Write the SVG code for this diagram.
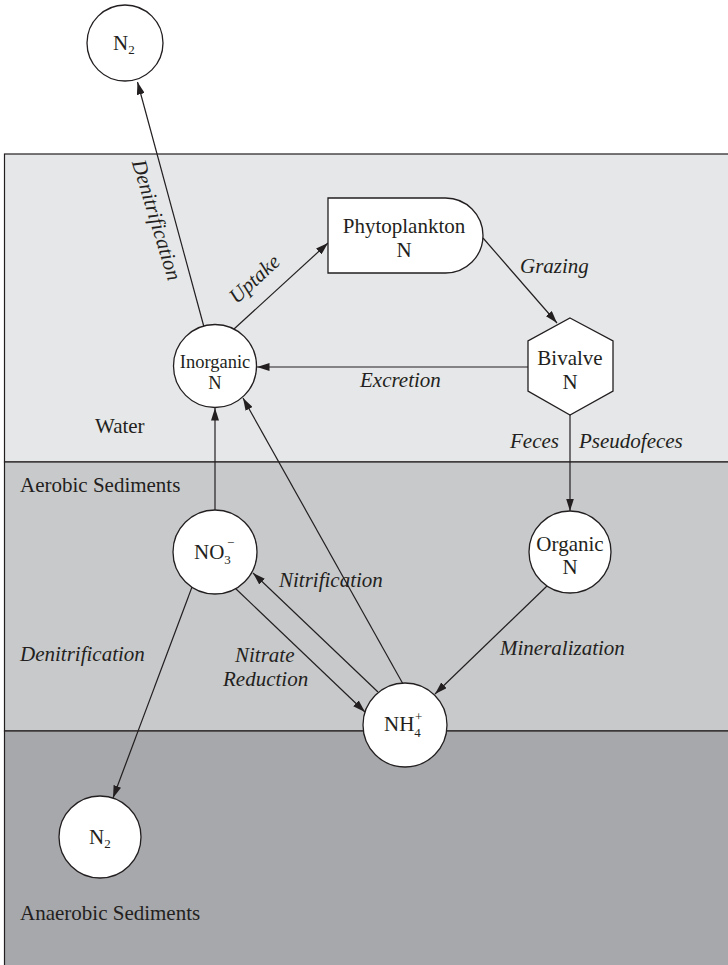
<svg xmlns="http://www.w3.org/2000/svg" width="728" height="965" viewBox="0 0 728 965">
<defs>
<marker id="ah" markerUnits="userSpaceOnUse" markerWidth="13" markerHeight="8" refX="12.5" refY="4" orient="auto">
<path d="M0,0 L12.5,4 L0,8 Z" fill="#231f20"/>
</marker>
</defs>
<style>
text{font-family:"Liberation Serif","Times New Roman",serif;fill:#231f20;font-size:21px}
.c{text-anchor:middle}
.i{font-style:italic}
.sm{font-size:13px}
.node{fill:#fff;stroke:#231f20;stroke-width:1.3}
.conn line{stroke:#231f20;stroke-width:1.2;fill:none}
.conn line.a{marker-end:url(#ah)}
.band{stroke:#231f20;stroke-width:1.2}
</style>
<g id="zones">
<rect class="band" x="4.5" y="154" width="730" height="308" fill="#e6e7e8"/>
<rect class="band" x="4.5" y="462" width="730" height="269" fill="#c8c9cb"/>
<rect class="band" x="4.5" y="731" width="730" height="240" fill="#a7a8ab"/>
<text x="95" y="433">Water</text>
<text x="20" y="492">Aerobic Sediments</text>
<text x="20" y="920">Anaerobic Sediments</text>
</g>
<g class="conn" id="connectors">
<line class="a" x1="204" y1="327" x2="137.5" y2="82"/>
<line class="a" x1="234" y1="329" x2="328" y2="243"/>
<line class="a" x1="483" y1="238" x2="557" y2="323"/>
<line class="a" x1="528" y1="367" x2="257" y2="367"/>
<line class="a" x1="570" y1="415" x2="570" y2="511"/>
<line class="a" x1="215" y1="510" x2="215" y2="408"/>
<line class="a" x1="403" y1="684" x2="243" y2="398"/>
<line class="a" x1="378" y1="692" x2="253" y2="573"/>
<line class="a" x1="235" y1="588" x2="365" y2="712"/>
<line class="a" x1="547" y1="586" x2="435" y2="694"/>
<line class="a" x1="192" y1="587" x2="113" y2="798"/>
</g>
<g id="labels">
<text class="i c" transform="translate(150,222) rotate(73)">Denitrification</text>
<text class="i c" transform="translate(259,284) rotate(-42.5)">Uptake</text>
<text class="i" x="520" y="273">Grazing</text>
<text class="i" x="360" y="387">Excretion</text>
<text class="i" x="559" y="448" style="text-anchor:end">Feces</text>
<text class="i" x="579" y="448">Pseudofeces</text>
<text class="i" x="279" y="587">Nitrification</text>
<text class="i" x="235" y="662">Nitrate</text>
<text class="i" x="223" y="686">Reduction</text>
<text class="i" x="20" y="661">Denitrification</text>
<text class="i" x="500" y="655">Mineralization</text>
</g>
<g id="n2-top">
<circle class="node" cx="125" cy="43" r="38"/>
<text x="113" y="50">N<tspan class="sm" dy="4">2</tspan></text>
</g>
<g id="phytoplankton">
<path class="node" d="M328,198 H445.5 A37.5,37.5 0 0 1 445.5,273 H328 Z"/>
<text class="c" x="404" y="233">Phytoplankton</text>
<text class="c" x="404" y="257">N</text>
</g>
<g id="bivalve">
<polygon class="node" points="570,318 613,341 613,391 570,415 528,391 528,341"/>
<text class="c" x="570" y="365">Bivalve</text>
<text class="c" x="570" y="389">N</text>
</g>
<g id="inorganic">
<circle class="node" cx="215" cy="366" r="41.5"/>
<text class="c" x="215" y="368" style="font-size:18.5px">Inorganic</text>
<text class="c" x="215" y="389" style="font-size:18.5px">N</text>
</g>
<g id="organic">
<circle class="node" cx="570" cy="552" r="41"/>
<text class="c" x="570" y="551">Organic</text>
<text class="c" x="570" y="574">N</text>
</g>
<g id="no3">
<circle class="node" cx="215" cy="552" r="42"/>
<text x="194" y="559">NO<tspan class="sm" dy="5">3</tspan><tspan class="sm" x="227" dy="-17">−</tspan></text>
</g>
<g id="nh4">
<circle class="node" cx="405" cy="725" r="42"/>
<text x="384" y="731">NH<tspan class="sm" dy="6">4</tspan><tspan class="sm" x="415" dy="-16">+</tspan></text>
</g>
<g id="n2-bottom">
<circle class="node" cx="100" cy="837" r="41"/>
<text x="89" y="844">N<tspan class="sm" dy="4">2</tspan></text>
</g>
</svg>
